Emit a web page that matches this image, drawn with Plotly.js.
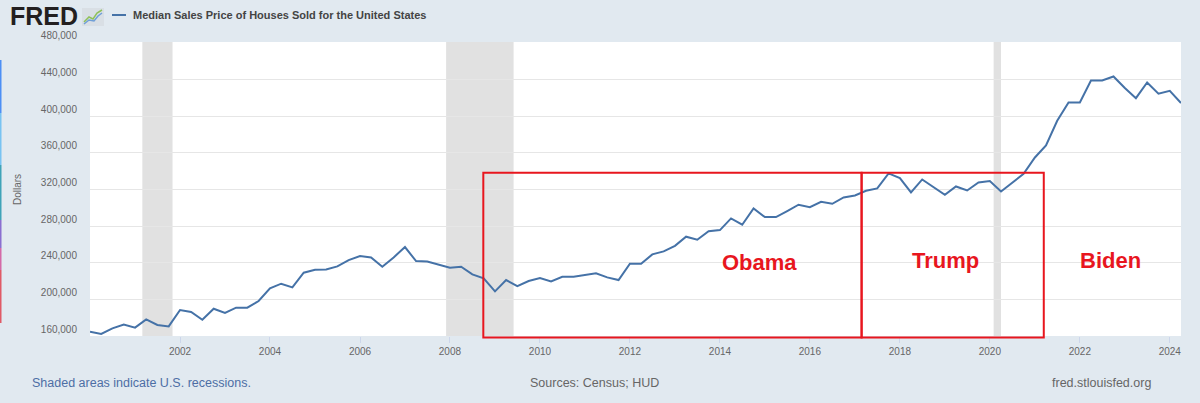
<!DOCTYPE html>
<html>
<head>
<meta charset="utf-8">
<script src="https://cdn.plot.ly/plotly-3.0.1.min.js"></script>
<style>html,body{margin:0;padding:0;background:#e1e9f0;}#chart{width:1200px;height:403px;}</style>
</head>
<body>
<div id="chart"></div>
<script>
// Median Sales Price of Houses Sold for the United States (quarterly)
const firstYear = 2000;
const values2000s = [
  164700, 162200, 168400, 172400,
  169100, 178200, 172000, 170500,
  188400, 186200, 177800, 189800,
  185100, 190900, 190900, 198200,
  212000, 217100, 213100, 229100,
  232400, 232700, 236000, 242900,
  247300, 245800, 235600, 245800,
  257100, 241800, 241400, 238200,
  234500, 235600, 227300, 222900,
  208700, 221100, 214500, 220000
];
const values2010s = [
  223300, 219600, 224700, 224700,
  226900, 228400, 224000, 221100,
  238900, 238900, 249100, 252400,
  258500, 268400, 265100, 274500,
  275600, 288400, 281500, 299300,
  289800, 289800, 296400, 303300,
  300700, 306500, 304400, 311300,
  313400, 318500, 321100, 337500,
  332400, 316700, 330900, 322500,
  314200, 323300, 318900, 327600
];
const values2020s = [
  329100, 317800, 327600, 337100,
  354900, 368000, 395000, 415000,
  415000, 439000, 439000, 443400,
  430700, 419700, 436800, 424500,
  427700, 414300
];
const tickYears = ['2002', '2004', '2006', '2008', '2010', '2012', '2014', '2016', '2018', '2020', '2022', '2024'];
const recessionStarts = ['2001-03-01', '2007-12-01', '2020-02-01'];
const recessionEnds   = ['2001-11-01', '2009-06-01', '2020-04-01'];
const yTickVals = [160000, 200000, 240000, 280000, 320000, 360000, 400000, 440000, 480000];
const presidents = ['Obama', 'Trump', 'Biden'];
const boxStarts = ['2008-09-28', '2017-02-24'];
const boxEnds   = ['2017-02-24', '2021-03-14'];
const labelDates = ['2014-11-20', '2019-01-10', '2022-09-05'];
const labelValues = [240700, 242100, 242100];
const seriesName = 'Median Sales Price of Houses Sold for the United States';

const values = values2000s.concat(values2010s, values2020s);
const dates = values.map(function (v, i) {
  const y = firstYear + Math.floor(i / 4);
  const m = (i % 4) * 3 + 1;
  return y + '-' + (m < 10 ? '0' + m : m) + '-01';
});
const tickVals = tickYears.map(function (y) { return y + '-01-01'; });

// pixel -> paper helpers (plot area: x 90..1181, y 42..336)
const L = 90, R = 1181, T = 42, B = 336;
function px(x) { return (x - L) / (R - L); }
function py(y) { return (B - y) / (B - T); }

const FONT = 'Liberation Sans, Arial, sans-serif';
const RED = '#e8161e';

const shapes = [];
for (let i = 0; i < recessionStarts.length; i++) {
  shapes.push({type: 'rect', xref: 'x', yref: 'paper', x0: recessionStarts[i], x1: recessionEnds[i],
    y0: 0, y1: 1, fillcolor: '#e1e1e1', line: {width: 0}, layer: 'below'});
}
for (let i = 0; i < boxStarts.length; i++) {
  shapes.push({type: 'rect', xref: 'x', yref: 'paper', x0: boxStarts[i], x1: boxEnds[i],
    y0: py(337.5), y1: py(172.7), fillcolor: 'rgba(0,0,0,0)', line: {color: RED, width: 2}, layer: 'above'});
}
// legend line
shapes.push({type: 'line', xref: 'paper', yref: 'paper', x0: px(112), x1: px(126), y0: py(15), y1: py(15),
  line: {color: '#4572a7', width: 2}});
// small FRED icon
shapes.push({type: 'rect', xref: 'paper', yref: 'paper', x0: px(82), x1: px(104), y0: py(26), y1: py(8),
  fillcolor: '#d9dfe5', line: {width: 0}});
shapes.push({type: 'path', xref: 'paper', yref: 'paper',
  path: 'M' + px(84) + ',' + py(22) + ' L' + px(89) + ',' + py(17) + ' L' + px(93) + ',' + py(19) + ' L' + px(97) + ',' + py(13) + ' L' + px(102) + ',' + py(10),
  line: {color: '#8fc15a', width: 1.5}});
shapes.push({type: 'path', xref: 'paper', yref: 'paper',
  path: 'M' + px(84) + ',' + py(24) + ' L' + px(89) + ',' + py(20) + ' L' + px(94) + ',' + py(21) + ' L' + px(98) + ',' + py(16) + ' L' + px(102) + ',' + py(13),
  line: {color: '#6f9fd8', width: 1.5}});
// thin coloured stripe at the left edge of the picture
const stripeCols = ['#4d8ff5', '#78c3f2', '#3fa3b8', '#8a6fd0', '#d46aa8', '#e05a66'];
const stripeY = [60, 113, 165, 220, 248, 270, 323];
for (let i = 0; i < stripeCols.length; i++) {
  shapes.push({type: 'rect', xref: 'paper', yref: 'paper', x0: px(0), x1: px(1.5), y0: py(stripeY[i + 1]), y1: py(stripeY[i]),
    fillcolor: stripeCols[i], line: {width: 0}});
}

const annotations = [];
for (let i = 0; i < presidents.length; i++) {
  annotations.push({xref: 'x', yref: 'y', x: labelDates[i], y: labelValues[i], text: presidents[i], showarrow: false,
    xanchor: 'center', yanchor: 'middle', font: {family: FONT, size: 22, color: RED, weight: 'bold'}});
}
annotations.push({xref: 'paper', yref: 'paper', x: px(8), y: py(16), xanchor: 'left', yanchor: 'middle', showarrow: false,
  text: '<b>FRED</b>', font: {family: FONT, size: 25, color: '#231f20'}});
annotations.push({xref: 'paper', yref: 'paper', x: px(131), y: py(15), xanchor: 'left', yanchor: 'middle', showarrow: false,
  text: '<b>' + seriesName + '</b>', font: {family: FONT, size: 11, color: '#444444'}});
annotations.push({xref: 'paper', yref: 'paper', x: px(17), y: py(190), xanchor: 'center', yanchor: 'middle', showarrow: false,
  textangle: -90, text: 'Dollars', font: {family: FONT, size: 10, color: '#666666'}});
annotations.push({xref: 'paper', yref: 'paper', x: px(30), y: py(383), xanchor: 'left', yanchor: 'middle', showarrow: false,
  text: 'Shaded areas indicate U.S. recessions.', font: {family: FONT, size: 12.5, color: '#4d6ea5'}});
annotations.push({xref: 'paper', yref: 'paper', x: px(594), y: py(383), xanchor: 'center', yanchor: 'middle', showarrow: false,
  text: 'Sources: Census; HUD', font: {family: FONT, size: 12.5, color: '#666666'}});
annotations.push({xref: 'paper', yref: 'paper', x: px(1153), y: py(383), xanchor: 'right', yanchor: 'middle', showarrow: false,
  text: 'fred.stlouisfed.org', font: {family: FONT, size: 12.5, color: '#666666'}});

const trace = {
  type: 'scatter', mode: 'lines', x: dates, y: values, name: seriesName,
  line: {color: '#4572a7', width: 2}, hoverinfo: 'x+y'
};

const layout = {
  width: 1200, height: 403,
  paper_bgcolor: '#e1e9f0', plot_bgcolor: '#ffffff',
  margin: {l: L, r: 1200 - R, t: T, b: 403 - B, pad: 0},
  showlegend: false,
  font: {family: FONT},
  xaxis: {
    type: 'date', range: ['2000-01-01', '2024-04-01'],
    tickmode: 'array', tickvals: tickVals, ticktext: tickYears,
    showgrid: false, zeroline: false, showline: false,
    ticks: 'outside', ticklen: 6, tickwidth: 1, tickcolor: '#ccd6eb',
    tickfont: {family: FONT, size: 10, color: '#666666'}
  },
  yaxis: {
    range: [160000, 481000], tickmode: 'array', tickvals: yTickVals, tickformat: ',d',
    showgrid: true, gridcolor: '#e6e6e6', gridwidth: 1, zeroline: false, showline: false,
    ticks: '', ticklabelposition: 'outside top', ticklabelstandoff: 12,
    tickfont: {family: FONT, size: 10, color: '#666666'}
  },
  shapes: shapes,
  annotations: annotations
};

Plotly.newPlot('chart', [trace], layout, {displayModeBar: false, staticPlot: true});
</script>
</body>
</html>
